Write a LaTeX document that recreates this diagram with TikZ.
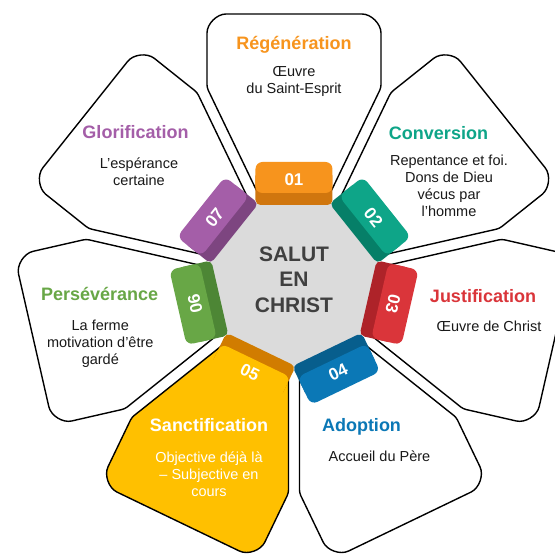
\documentclass[tikz,border=0pt]{standalone}
\usepackage{fontspec}
\setsansfont{Liberation Sans}
\usepackage{xcolor}
\usepackage{tikz}
\usetikzlibrary{positioning}

\definecolor{orangeA}{HTML}{F7941D}
\definecolor{orangeB}{HTML}{D0760E}
\definecolor{tealA}{HTML}{0EA588}
\definecolor{tealB}{HTML}{067F68}
\definecolor{redA}{HTML}{DA353A}
\definecolor{redB}{HTML}{AE2329}
\definecolor{blueA}{HTML}{0B78B6}
\definecolor{blueB}{HTML}{075E8D}
\definecolor{goldA}{HTML}{FFC000}
\definecolor{goldB}{HTML}{D17C00}
\definecolor{greenA}{HTML}{68A746}
\definecolor{greenB}{HTML}{4D8635}
\definecolor{purpleA}{HTML}{A45EA8}
\definecolor{purpleB}{HTML}{7D4580}
\definecolor{greyC}{HTML}{DBDBDB}
\definecolor{textC}{HTML}{404040}

\begin{document}
\begin{tikzpicture}[
  x=1pt, y=1pt,
  font=\sffamily,
  petal/.style={draw=black, line width=1.4pt, fill=white,
    rounded corners=3pt, line join=round},
  hept/.style={fill=greyC, rounded corners=4pt},
  tabbase/.style={rounded corners=5pt},
  tabface/.style={rounded corners=7pt},
  num/.style={inner sep=0pt, text=white,
    font=\sffamily\bfseries\fontsize{17}{20}\selectfont},
  title/.style={anchor=base,
    font=\sffamily\bfseries\fontsize{18}{21}\selectfont},
  body/.style={align=center, text=black!90,
    font=\sffamily\fontsize{14.5}{17}\selectfont},
  centre/.style={align=center, text=textC,
    font=\sffamily\bfseries\fontsize{21}{25.5}\selectfont}
]
\useasboundingbox (-294,-273) rectangle (261,281);

% petals
\draw[petal, rotate=90] (65.5,25.4) -- (193.3,87) -- (245,87)
  arc[start angle=90, end angle=0, radius=22pt] -- (267,-65)
  arc[start angle=0, end angle=-90, radius=22pt] -- (193.3,-87)
  -- (65.5,-25.4) -- cycle;
\draw[petal, rotate=38.57] (65.5,25.4) -- (193.3,87) -- (245,87)
  arc[start angle=90, end angle=0, radius=22pt] -- (267,-65)
  arc[start angle=0, end angle=-90, radius=22pt] -- (193.3,-87)
  -- (65.5,-25.4) -- cycle;
\draw[petal, rotate=-12.86] (65.5,25.4) -- (193.3,87) -- (245,87)
  arc[start angle=90, end angle=0, radius=22pt] -- (267,-65)
  arc[start angle=0, end angle=-90, radius=22pt] -- (193.3,-87)
  -- (65.5,-25.4) -- cycle;
\draw[petal, rotate=-64.29] (65.5,25.4) -- (193.3,87) -- (245,87)
  arc[start angle=90, end angle=0, radius=22pt] -- (267,-65)
  arc[start angle=0, end angle=-90, radius=22pt] -- (193.3,-87)
  -- (65.5,-25.4) -- cycle;
\draw[petal, fill=goldA, rotate=-115.71] (65.5,25.4) -- (193.3,87) -- (245,87)
  arc[start angle=90, end angle=0, radius=22pt] -- (267,-65)
  arc[start angle=0, end angle=-90, radius=22pt] -- (193.3,-87)
  -- (65.5,-25.4) -- cycle;
\draw[petal, rotate=-167.14] (65.5,25.4) -- (193.3,87) -- (245,87)
  arc[start angle=90, end angle=0, radius=22pt] -- (267,-65)
  arc[start angle=0, end angle=-90, radius=22pt] -- (193.3,-87)
  -- (65.5,-25.4) -- cycle;
\draw[petal, rotate=141.43] (65.5,25.4) -- (193.3,87) -- (245,87)
  arc[start angle=90, end angle=0, radius=22pt] -- (267,-65)
  arc[start angle=0, end angle=-90, radius=22pt] -- (193.3,-87)
  -- (65.5,-25.4) -- cycle;

% centre
\fill[hept] (64.29:86.6) -- (115.71:86.6) -- (167.14:86.6) -- (218.57:86.6)
  -- (270:86.6) -- (321.43:86.6) -- (12.86:86.6) -- cycle;
\node[centre] (salut) at (0,1.5) {SALUT\\EN\\CHRIST};

% tabs
\fill[tabbase, orangeB, rotate=0] (-38.5,76) rectangle (38.5,110);
\fill[tabface, orangeA, rotate=0] (-38.5,88) rectangle (38.5,119);
\node[num, rotate=0] (n01) at (90:101.5) {01};
\fill[tabbase, tealB, rotate=-51.43] (-38.5,76) rectangle (38.5,110);
\fill[tabface, tealA, rotate=-51.43] (-38.5,88) rectangle (38.5,119);
\node[num, rotate=-51.43] (n02) at (38.57:101.5) {02};
\fill[tabbase, redB, rotate=-102.86] (-38.5,76) rectangle (38.5,110);
\fill[tabface, redA, rotate=-102.86] (-38.5,88) rectangle (38.5,119);
\node[num, rotate=-102.86] (n03) at (-12.86:101.5) {03};
\fill[tabbase, blueB, rotate=-154.29] (-38.5,76) rectangle (38.5,110);
\fill[tabface, blueA, rotate=-154.29] (-38.5,88) rectangle (38.5,119);
\node[num, rotate=25.71] (n04) at (-64.29:101.5) {04};
\fill[tabbase, goldB, rotate=154.29] (-38.5,76) rectangle (38.5,110);
\fill[tabface, goldA, rotate=154.29] (-38.5,88) rectangle (38.5,119);
\node[num, rotate=-25.71] (n05) at (-115.71:101.5) {05};
\fill[tabbase, greenB, rotate=102.86] (-38.5,76) rectangle (38.5,110);
\fill[tabface, greenA, rotate=102.86] (-38.5,88) rectangle (38.5,119);
\node[num, rotate=102.86] (n06) at (-167.14:101.5) {06};
\fill[tabbase, purpleB, rotate=51.43] (-38.5,76) rectangle (38.5,110);
\fill[tabface, purpleA, rotate=51.43] (-38.5,88) rectangle (38.5,119);
\node[num, rotate=51.43] (n07) at (141.43:101.5) {07};

% texts
\node[title, text=orangeA] (regeneration) at (0,231) {Régénération};
\node[body] (regenerationtxt) at (0,200) {Œuvre\\du Saint-Esprit};
\node[title, text=tealA] (conversion) at (144.5,141.7) {Conversion};
\node[body] (conversiontxt) at (155,94.7)
  {Repentance et foi.\\Dons de Dieu\\vécus par\\l’homme};
\node[title, text=redA] (justification) at (189,-22) {Justification};
\node[body] (justificationtxt) at (195,-45.5) {Œuvre de Christ};
\node[title, text=blueA] (adoption) at (67.5,-151) {Adoption};
\node[body] (adoptiontxt) at (85.5,-175.2) {Accueil du Père};
\node[title, text=white] (sanctification) at (-85,-151) {Sanctification};
\node[body, text=white] (sanctificationtxt) at (-85,-193.2)
  {Objective déjà là\\– Subjective en\\cours};
\node[title, text=greenA] (perseverance) at (-194.3,-19.7) {Persévérance};
\node[body] (perseverancetxt) at (-193.7,-63.2)
  {La ferme\\motivation d’être\\gardé};
\node[title, text=purpleA] (glorification) at (-158.5,142.7) {Glorification};
\node[body] (glorificationtxt) at (-155,109.3) {L’espérance\\certaine};
\end{tikzpicture}
\end{document}
